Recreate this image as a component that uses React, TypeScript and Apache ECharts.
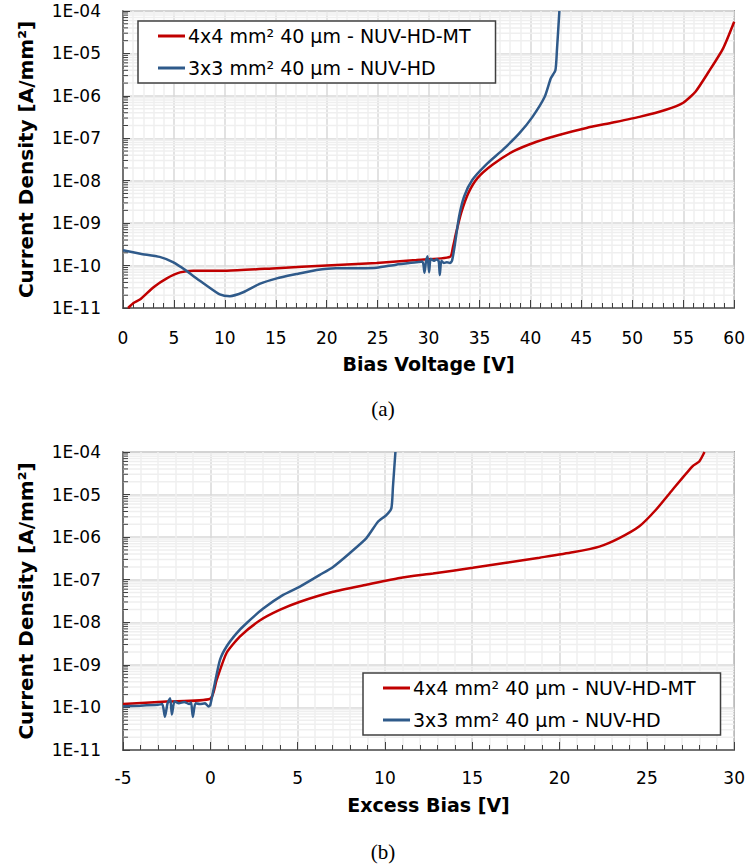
import React, { useEffect, useRef } from "react";
import * as echarts from "echarts";

const NAME_MT = "4x4 mm² 40 µm - NUV-HD-MT";
const NAME_HD = "3x3 mm² 40 µm - NUV-HD";

// (a) Bias voltage [V] vs current density [A/mm²]
const topVoltageRed = [0.5, 1.0, 1.7, 3.0, 4.3, 5.6, 6.9, 10.2, 15.1, 20.0, 24.9, 28.8, 32.1, 32.4, 32.7, 33.2, 33.9, 34.8, 36.3, 38.3, 40.6, 42.8, 45.5, 48.1, 50.7, 53.3, 55.0, 56.2, 57.5, 58.9, 60.0];
const topCurrentRed = [1.0e-11, 1.3e-11, 1.6e-11, 3.1e-11, 5.0e-11, 6.9e-11, 7.6e-11, 7.6e-11, 8.7e-11, 1.0e-10, 1.15e-10, 1.35e-10, 1.6e-10, 2.8e-10, 5.9e-10, 1.75e-9, 5.1e-9, 1.15e-8, 2.4e-8, 4.9e-8, 8.3e-8, 1.2e-7, 1.75e-7, 2.35e-7, 3.2e-7, 4.7e-7, 6.9e-7, 1.25e-6, 3.7e-6, 1.3e-5, 5.6e-5];

const topVoltageBlue = [0, 1.7, 3.6, 4.9, 6.2, 7.2, 8.2, 9.5, 10.5, 11.8, 13.4, 15.1, 17.0, 19.0, 20.9, 23.2, 24.9, 26.8, 28.8, 29.4, 29.6, 29.75, 29.9, 30.05, 30.2, 30.5, 30.8, 31.0, 31.1, 31.25, 31.5, 31.8, 32.1, 32.3, 32.55, 33.0, 33.5, 34.3, 35.65, 37.3, 38.9, 40.2, 41.4, 42.0, 42.45, 42.6, 42.84];
const topCurrentBlue = [2.3e-10, 1.9e-10, 1.6e-10, 1.2e-10, 7.6e-11, 5.0e-11, 3.4e-11, 2.1e-11, 1.9e-11, 2.35e-11, 3.7e-11, 5.0e-11, 6.3e-11, 7.9e-11, 8.7e-11, 8.7e-11, 8.9e-11, 1.05e-10, 1.2e-10, 1.25e-10, 6.8e-11, 1.3e-10, 1.65e-10, 7.0e-11, 1.45e-10, 1.3e-10, 1.4e-10, 1.25e-10, 6.0e-11, 1.3e-10, 1.15e-10, 1.2e-10, 1.15e-10, 1.3e-10, 2.8e-10, 1.45e-9, 4.3e-9, 1.05e-8, 2.4e-8, 5.4e-8, 1.3e-7, 3.2e-7, 9.5e-7, 2.6e-6, 4.0e-6, 1.2e-5, 1.0e-4];

// (b) Excess bias [V] vs current density [A/mm²]
const bottomExcessRed = [-5, -2.5, 0.0, 0.36, 0.93, 1.69, 2.83, 3.97, 5.1, 7.03, 8.94, 10.84, 12.75, 15.03, 16.94, 18.85, 20.75, 22.28, 23.42, 24.57, 25.52, 26.47, 27.61, 28.0, 28.3];
const bottomCurrentRed = [1.2e-10, 1.38e-10, 1.6e-10, 4.4e-10, 1.9e-9, 4.6e-9, 1.1e-8, 1.95e-8, 3.0e-8, 5.2e-8, 7.6e-8, 1.1e-7, 1.4e-7, 1.9e-7, 2.5e-7, 3.3e-7, 4.4e-7, 6.0e-7, 9.5e-7, 1.8e-6, 4.4e-6, 1.3e-5, 4.6e-5, 6.0e-5, 1.0e-4];

const bottomExcessBlue = [-5, -4.0, -3.0, -2.75, -2.6, -2.45, -2.3, -2.2, -2.05, -1.8, -1.5, -1.2, -1.1, -1.0, -0.85, -0.6, -0.3, -0.1, 0.0, 0.26, 0.55, 0.93, 1.5, 2.07, 3.03, 4.17, 5.13, 6.27, 7.03, 7.98, 8.94, 9.6, 10.08, 10.37, 10.46, 10.6];
const bottomCurrentBlue = [1.07e-10, 1.1e-10, 1.15e-10, 1.2e-10, 6.0e-11, 1.25e-10, 1.65e-10, 6.8e-11, 1.4e-10, 1.25e-10, 1.35e-10, 1.2e-10, 1.3e-10, 6.0e-11, 1.25e-10, 1.2e-10, 1.25e-10, 1.05e-10, 1.15e-10, 3.7e-10, 1.3e-9, 2.7e-9, 5.5e-9, 9.5e-9, 2.1e-8, 4.4e-8, 6.9e-8, 1.3e-7, 2.0e-7, 4.2e-7, 9.5e-7, 2.3e-6, 3.3e-6, 4.8e-6, 1.55e-5, 1.0e-4];

// axis ranges / ticks
const topXRange = [0, 60];
const bottomXRange = [-5, 30];
const yRange = [1e-11, 1e-4];
const xTickStep = 5;

const RED = "#C00000";
const BLUE = "#2F5A8A";
const FONT = "DejaVu Sans";

function minorLogValues(min: number, max: number): number[] {
  const out: number[] = [];
  const e0 = Math.round(Math.log10(min));
  const e1 = Math.round(Math.log10(max));
  for (let e = e0; e < e1; e++) {
    for (let m = 2; m <= 9; m++) out.push(m * Math.pow(10, e));
  }
  return out;
}

function fmtExp(v: number): string {
  const e = Math.round(Math.log10(v));
  return "1E" + (e < 0 ? "-" : "+") + String(Math.abs(e)).padStart(2, "0");
}

function pairs(xs: number[], ys: number[]) {
  return xs.map((x, i) => [x, ys[i]]);
}

export default function App() {
  const ref = useRef<HTMLDivElement>(null);

  useEffect(() => {
    if (!ref.current) return;
    const chart = echarts.init(ref.current, undefined, { renderer: "svg" });
    const minorY = minorLogValues(yRange[0], yRange[1]);

    const xAxisBase = (idx: number, range: number[], name: string, gap: number, margin: number) => ({
      type: "value",
      gridIndex: idx,
      min: range[0],
      max: range[1],
      interval: xTickStep,
      name,
      nameLocation: "middle",
      nameGap: gap,
      nameTextStyle: { fontFamily: FONT, fontWeight: "bold", fontSize: 19, color: "#000" },
      axisLabel: { fontFamily: FONT, fontSize: 17, color: "#000", margin },
      axisLine: { show: true, onZero: false, lineStyle: { color: "#595959", width: 1.5 } },
      axisTick: { show: true, inside: true, length: 8, lineStyle: { color: "#404040", width: 1 } },
      minorTick: { show: true, splitNumber: 5, length: 5, lineStyle: { color: "#404040", width: 1 } },
      splitLine: { show: true, lineStyle: { color: "#d9d9d9", width: 1.5 } },
      minorSplitLine: { show: true, lineStyle: { color: "#efefef", width: 1.5 } },
    });

    const yAxisBase = (idx: number) => ({
      type: "log",
      logBase: 10,
      gridIndex: idx,
      min: yRange[0],
      max: yRange[1],
      splitNumber: 7,
      name: "Current Density [A/mm²]",
      nameLocation: "middle",
      nameGap: 87,
      nameTextStyle: { fontFamily: FONT, fontWeight: "bold", fontSize: 20, color: "#000" },
      axisLabel: { fontFamily: FONT, fontSize: 17, color: "#000", margin: 22, formatter: fmtExp },
      axisLine: { show: true, onZero: false, lineStyle: { color: "#595959", width: 1.5 } },
      axisTick: { show: true, inside: true, length: 7, lineStyle: { color: "#404040", width: 1 } },
      splitLine: { show: true, lineStyle: { color: "#d9d9d9", width: 1.5 } },
    });

    const minorSeries = (idx: number, xMin: number) => ({
      type: "custom",
      name: "minor" + idx,
      xAxisIndex: idx,
      yAxisIndex: idx,
      z: 1,
      silent: true,
      data: minorY.map((v) => [xMin, v]),
      renderItem: (params: any, api: any) => {
        const cs = params.coordSys;
        const y = api.coord([api.value(0), api.value(1)])[1];
        return {
          type: "group",
          children: [
            { type: "line", shape: { x1: cs.x, y1: y, x2: cs.x + cs.width, y2: y }, style: { stroke: "#efefef", lineWidth: 1.5 } },
            { type: "line", shape: { x1: cs.x, y1: y, x2: cs.x + 5, y2: y }, style: { stroke: "#404040", lineWidth: 1 } },
          ],
        };
      },
    });

    const lineSeries = (idx: number, name: string, color: string, data: number[][]) => ({
      type: "line",
      name,
      xAxisIndex: idx,
      yAxisIndex: idx,
      data,
      showSymbol: false,
      symbol: "none",
      smooth: 0.2,
      silent: true,
      z: 3,
      lineStyle: { color, width: 2.5 },
      itemStyle: { color },
      emphasis: { disabled: true },
    });

    const legendBase = (left: number, top: number) => ({
      left,
      top,
      orient: "vertical",
      data: [NAME_MT, NAME_HD],
      icon: "rect",
      padding: [4, 25, 4, 20],
      itemGap: 10,
      itemWidth: 27,
      itemHeight: 3,
      backgroundColor: "#ffffff",
      borderColor: "#404040",
      borderWidth: 1.5,
      borderRadius: 0,
      selectedMode: false,
      textStyle: { fontFamily: FONT, fontSize: 19, color: "#000", lineHeight: 22, padding: [0, 0, 0, -2] },
    });

    chart.setOption({
      animation: false,
      backgroundColor: "#ffffff",
      textStyle: { fontFamily: FONT },
      grid: [
        { left: 123, top: 11, width: 612, height: 297, show: true, borderColor: "#595959", borderWidth: 1.5, backgroundColor: "transparent" },
        { left: 123, top: 452, width: 612, height: 298, show: true, borderColor: "#595959", borderWidth: 1.5, backgroundColor: "transparent" },
      ],
      xAxis: [
        xAxisBase(0, topXRange, "Bias Voltage [V]", 46, 21),
        xAxisBase(1, bottomXRange, "Excess Bias [V]", 45, 19),
      ],
      yAxis: [yAxisBase(0), yAxisBase(1)],
      legend: [legendBase(138, 21), legendBase(363, 673)],
      series: [
        minorSeries(0, topXRange[0]),
        minorSeries(1, bottomXRange[0]),
        lineSeries(0, NAME_MT, RED, pairs(topVoltageRed, topCurrentRed)),
        lineSeries(0, NAME_HD, BLUE, pairs(topVoltageBlue, topCurrentBlue)),
        lineSeries(1, NAME_MT, RED, pairs(bottomExcessRed, bottomCurrentRed)),
        lineSeries(1, NAME_HD, BLUE, pairs(bottomExcessBlue, bottomCurrentBlue)),
      ],
      graphic: [
        { type: "text", x: 383, y: 409, style: { text: "(a)", fontFamily: "Liberation Serif", fontSize: 21, fill: "#000", align: "center", verticalAlign: "middle" } },
        { type: "text", x: 383, y: 852, style: { text: "(b)", fontFamily: "Liberation Serif", fontSize: 21, fill: "#000", align: "center", verticalAlign: "middle" } },
      ],
    });

    return () => chart.dispose();
  }, []);

  return <div ref={ref} style={{ position: "absolute", left: 0, top: 0, width: 748, height: 867 }} />;
}
